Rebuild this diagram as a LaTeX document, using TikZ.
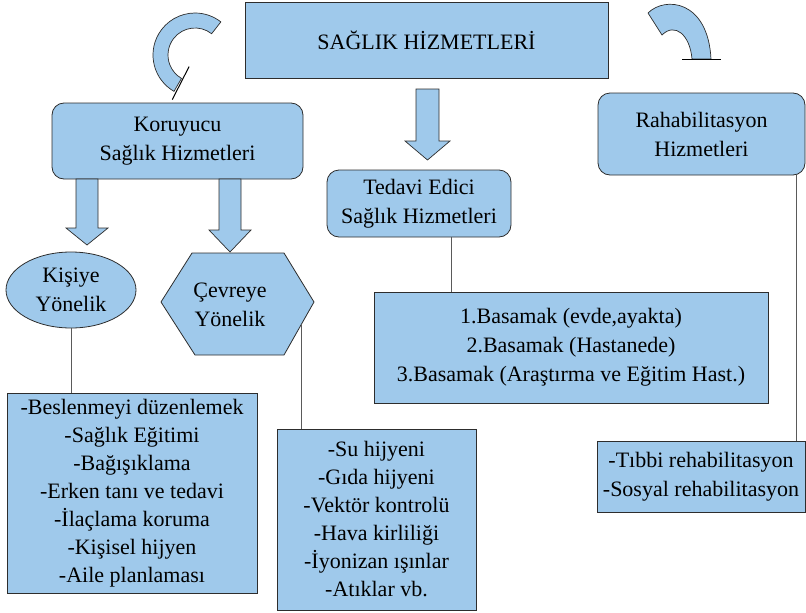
\documentclass[tikz,border=0pt]{standalone}
\usepackage{fontspec}
\setmainfont{LiberationSerif}[Extension=.ttf, UprightFont=*-Regular, BoldFont=*-Bold, ItalicFont=*-Italic, BoldItalicFont=*-BoldItalic]
\usetikzlibrary{shapes.geometric,calc}
\definecolor{boxfill}{RGB}{159,201,235}
\definecolor{boxline}{RGB}{45,45,45}
\definecolor{conn}{RGB}{90,90,90}
\begin{document}
\begin{tikzpicture}[x=1pt,y=-1pt,
  txt/.style={font=\fontsize{22}{29}\selectfont, align=center, text=black},
  listtxt/.style={font=\fontsize{22}{28}\selectfont, align=center, text=black},
  shapebase/.style={draw=boxline, fill=boxfill, line width=0.8pt, inner sep=0pt},
  sqbox/.style={shapebase, rectangle},
  rbox/.style={shapebase, rectangle, rounded corners=12pt},
  blockarrow/.style={draw=boxline, fill=boxfill, line width=0.7pt, line join=miter},
  conline/.style={draw=conn, line width=1pt}]
\useasboundingbox (0,0) rectangle (806,613);

% main box
\node[sqbox, txt, minimum width=363pt, minimum height=76pt] (main) at (426.5,40) {SAĞLIK HİZMETLERİ};

% second level
\node[rbox, txt, minimum width=251pt, minimum height=76pt] (kor) at (177.5,141) {Koruyucu\\Sağlık Hizmetleri};
\node[rbox, txt, minimum width=184pt, minimum height=67pt] (ted) at (419,203.5) {Tedavi Edici\\Sağlık Hizmetleri};
\node[rbox, txt, minimum width=207pt, minimum height=82pt] (rah) at (701.5,134) {Rahabilitasyon\\Hizmetleri};

% third level
\node[shapebase, ellipse, txt, minimum width=130pt, minimum height=76pt] (kis) at (71,290) {Kişiye\\Yönelik};
\coordinate (hl) at (161,302);
\coordinate (htl) at (192,253);
\coordinate (htr) at (284,253);
\coordinate (hr) at (314,302);
\coordinate (hbr) at (284,355);
\coordinate (hbl) at (195,355);
\draw[shapebase] (hl) -- (htl) -- (htr) -- (hr) -- (hbr) -- (hbl) -- cycle;
\node[txt] (cev) at (230,305) {Çevreye\\Yönelik};
\coordinate (hedge) at ($(hr)!0.42!(hbr)$);

\node[sqbox, txt, minimum width=394pt, minimum height=111pt] (bas) at (571,347.5)
  {1.Basamak (evde,ayakta)\\2.Basamak (Hastanede)\\3.Basamak (Araştırma ve Eğitim Hast.)};
\node[sqbox, txt, minimum width=208pt, minimum height=71pt] (reh) at (701,476.5)
  {-Tıbbi rehabilitasyon\\-Sosyal rehabilitasyon};
\node[sqbox, listtxt, minimum width=250pt, minimum height=200pt] (kisl) at (132,493)
  {-Beslenmeyi düzenlemek\\-Sağlık Eğitimi\\-Bağışıklama\\-Erken tanı ve tedavi\\-İlaçlama koruma\\-Kişisel hijyen\\-Aile planlaması};
\node[sqbox, listtxt, minimum width=199pt, minimum height=181pt] (cevl) at (376.5,519.5)
  {-Su hijyeni\\-Gıda hijyeni\\-Vektör kontrolü\\-Hava kirliliği\\-İyonizan ışınlar\\-Atıklar vb.};

% connectors
\draw[conline] (kis.south) -- (kis.south |- kisl.north);
\draw[conline] (hedge) -- (hedge |- cevl.north);
\draw[conline] ([xshift=32pt]ted.south) -- ([xshift=32pt]ted.south |- bas.north);
\draw[conline] ([xshift=94.5pt]rah.south) -- ([xshift=94.5pt]rah.south |- reh.north);

% block arrows
\draw[blockarrow] (416,89) -- (439,89) -- (439,141) -- (450,141) -- (427.5,160) -- (405,141) -- (416,141) -- cycle;
\draw[blockarrow] (76,179) -- (98,179) -- (98,228) -- (108,228) -- (87,245) -- (66,228) -- (76,228) -- cycle;
\draw[blockarrow] (219,179) -- (241,179) -- (241,230) -- (251,230) -- (230,252) -- (209,230) -- (219,230) -- cycle;

% curved arrows
\draw[blockarrow] (195,55) ++(120:42) arc[start angle=120,end angle=308,radius=42]
  -- ($(195,55)+(308:27)$) arc[start angle=308,end angle=120,radius=27] -- cycle;
\draw[line width=1pt, black] ($(195,55)+(117:13)$) -- ($(195,55)+(117:50)$);

\draw[blockarrow] (648,13) .. controls (665,-4) and (708,0) .. (711,59)
  -- (692,59) .. controls (690,35) and (675,22) .. (662,35) -- cycle;
\draw[line width=1pt, black] (682,59) -- (721,59);
\end{tikzpicture}
\end{document}
